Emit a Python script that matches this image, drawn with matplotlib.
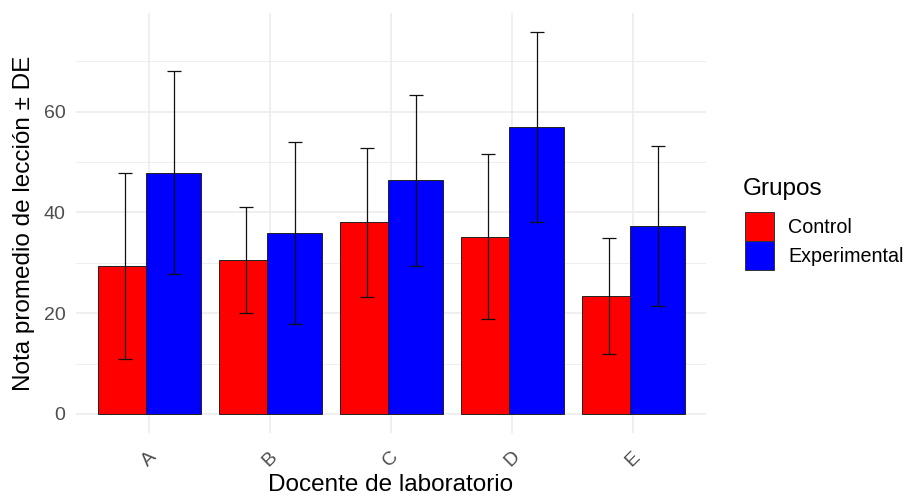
import matplotlib
matplotlib.use("Agg")
import matplotlib.pyplot as plt
import matplotlib.patches as mpatches
import numpy as np

plt.rcParams["font.family"] = ["Liberation Sans", "DejaVu Sans"]

# ── data ──────────────────────────────────────────────────────────────────────
docentes = ["A", "B", "C", "D", "E"]
grupos = ["Control", "Experimental"]
media_control = [29.4, 30.5, 38.0, 35.2, 23.4]
de_control = [18.5, 10.5, 14.7, 16.4, 11.6]
media_experimental = [47.9, 35.9, 46.4, 56.9, 37.3]
de_experimental = [20.2, 18.0, 17.0, 18.9, 15.8]

RED = "#ff0000"
BLUE = "#0000ff"
GRID = "#ebebeb"
TICK = "#4d4d4d"

fig = plt.figure(figsize=(9.07, 4.97), dpi=100, facecolor="white")
ax = fig.add_axes([0.0842, 0.129, 0.6938, 0.845])

x = np.arange(len(docentes))
for offs, w, med, col in [(-0.2235, 0.403, media_control, RED),
                          (0.205, 0.454, media_experimental, BLUE)]:
    ax.bar(x + offs, med, w, color=col, edgecolor="#222222", lw=0.7, zorder=3)
for offs, med, de in [(-0.195, media_control, de_control),
                      (0.21, media_experimental, de_experimental)]:
    ax.errorbar(x + offs, med, yerr=de, fmt="none", ecolor="#111111",
                elinewidth=0.9, capsize=4.7, capthick=0.9, zorder=4)

ax.set_xlim(-0.6, 4.6)
ax.set_ylim(-3.77, 79.6)
ax.set_yticks([0, 20, 40, 60])
ax.set_yticks([10, 30, 50, 70], minor=True)
ax.set_xticks(x)
ax.set_xticklabels(docentes, rotation=45, ha="center")
ax.grid(True, which="major", color=GRID, lw=1.1, zorder=0)
ax.grid(True, which="minor", axis="y", color=GRID, lw=0.6, zorder=0)
ax.tick_params(axis="both", which="both", length=0, labelsize=14, labelcolor=TICK)
ax.tick_params(axis="x", pad=11)
ax.tick_params(axis="y", pad=8)
for s in ax.spines.values():
    s.set_visible(False)

ax.set_ylabel("Nota promedio de lección ± DE", fontsize=17.5)
ax.yaxis.set_label_coords(-0.066, 0.5)
ax.set_xlabel("Docente de laboratorio", fontsize=17.5, va="baseline")
ax.xaxis.set_label_coords(0.5, -0.138)

# legend: title drawn separately so the gap above the keys matches
fig.text(743 / 907, 1 - 195 / 497, "Grupos", fontsize=17.5, ha="left", va="baseline")
handles = [mpatches.Patch(facecolor=RED, edgecolor="#333333", lw=0.7, label=grupos[0]),
           mpatches.Patch(facecolor=BLUE, edgecolor="#333333", lw=0.7, label=grupos[1])]
leg = fig.legend(handles=handles, loc="upper left",
                 bbox_to_anchor=(745 / 907, 1 - 212 / 497), frameon=False, fontsize=14.2,
                 handlelength=1.45, handleheight=1.87,
                 labelspacing=0.0, handletextpad=0.75,
                 borderpad=0.0, borderaxespad=0.0)

fig.savefig("out.png", dpi=100)
